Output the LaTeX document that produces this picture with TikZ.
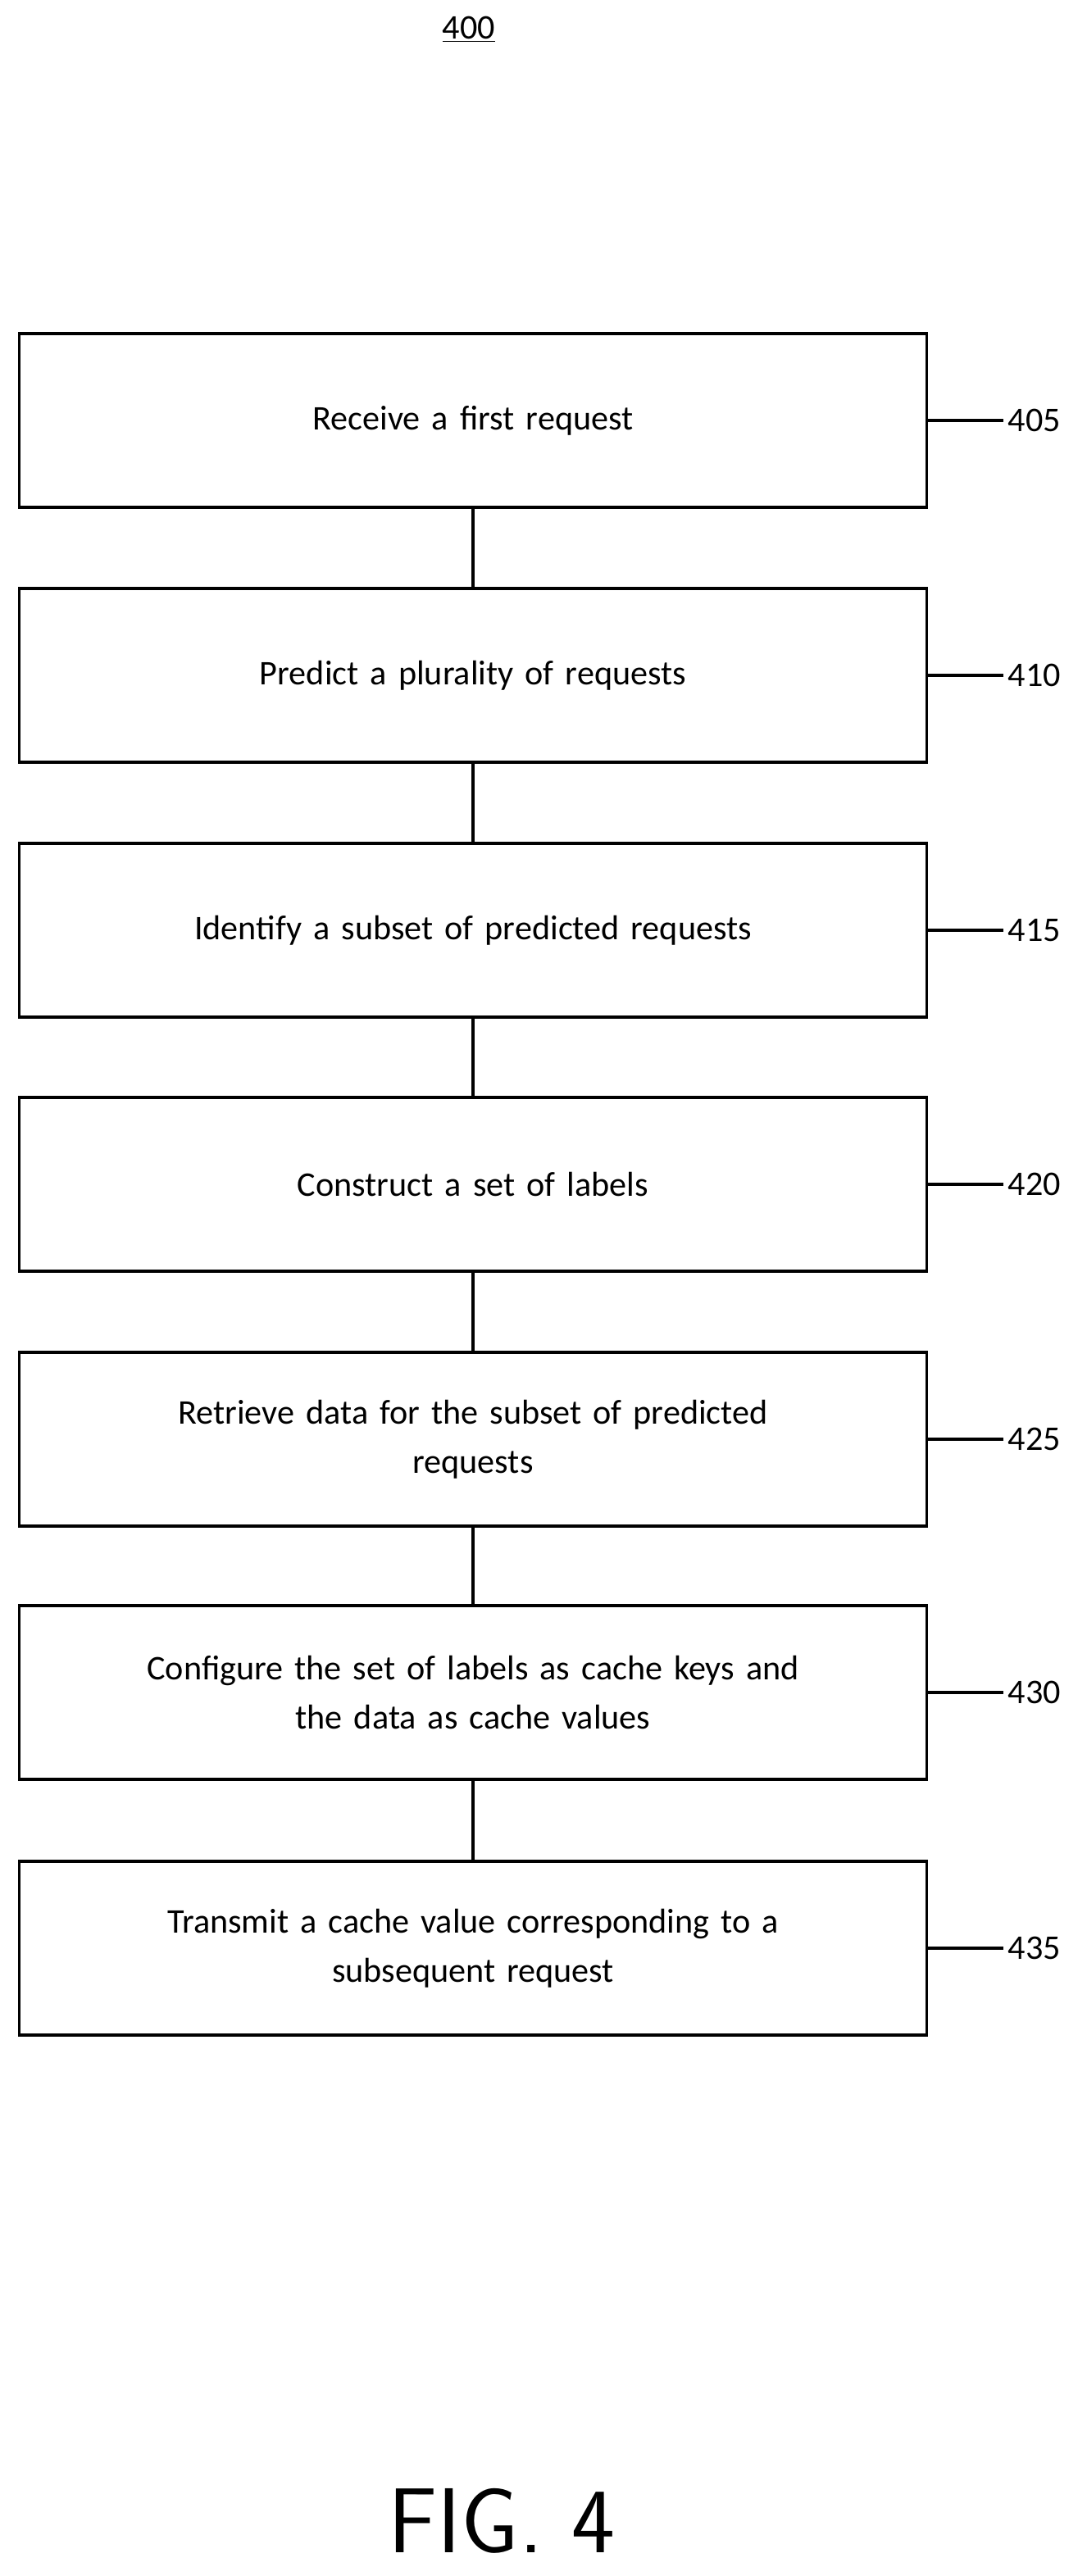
\documentclass[tikz,border=0pt]{standalone}
\usepackage{fontspec}
\setmainfont{Carlito}
\usetikzlibrary{positioning}

\begin{document}
\begin{tikzpicture}[x=0.04cm,y=-0.04cm,
    flowbox/.style={draw, line width=1.8pt, minimum width=22.12cm, minimum height=4.24cm,
      text width=20cm, align=center, font=\fontsize{24}{34}\selectfont},
    ref/.style={font=\fontsize{24}{28}\selectfont}]
    \useasboundingbox (0,0) rectangle (662.5,1571.5);
    \node[font=\fontsize{24}{28}\selectfont] (fignum) at (286,18) {\underline{400}};
    \node[flowbox] (s405) at (288.5,256.5) {Receive a first request};
    \node[flowbox] (s410) at (288.5,412) {Predict a plurality of requests};
    \node[flowbox] (s415) at (288.5,567.5) {Identify a subset of predicted requests};
    \node[flowbox] (s420) at (288.5,722.5) {Construct a set of labels};
    \node[flowbox] (s425) at (288.5,878) {Retrieve data for the subset of predicted\\requests};
    \node[flowbox] (s430) at (288.5,1032.5) {Configure the set of labels as cache keys and\\the data as cache values};
    \node[flowbox] (s435) at (288.5,1188.5) {Transmit a cache value corresponding to a\\subsequent request};
    % connectors between steps
    \foreach \a/\b in {s405/s410, s410/s415, s415/s420, s420/s425, s425/s430, s430/s435}
        \draw[line width=1.8pt] (\a.south) -- (\b.north);
    % reference numerals
    \foreach \s/\n in {s405/405, s410/410, s415/415, s420/420, s425/425, s430/430, s435/435} {
        \node[ref, anchor=west] (n\n) at ([xshift=46*0.04cm]\s.east) {\n};
        \draw[line width=1.8pt] (\s.east) -- (n\n.west);
    }
    \node[font=\fontsize{64}{70}\selectfont\sffamily] (caption) at (306,1538) {FIG. 4};
\end{tikzpicture}
\end{document}
